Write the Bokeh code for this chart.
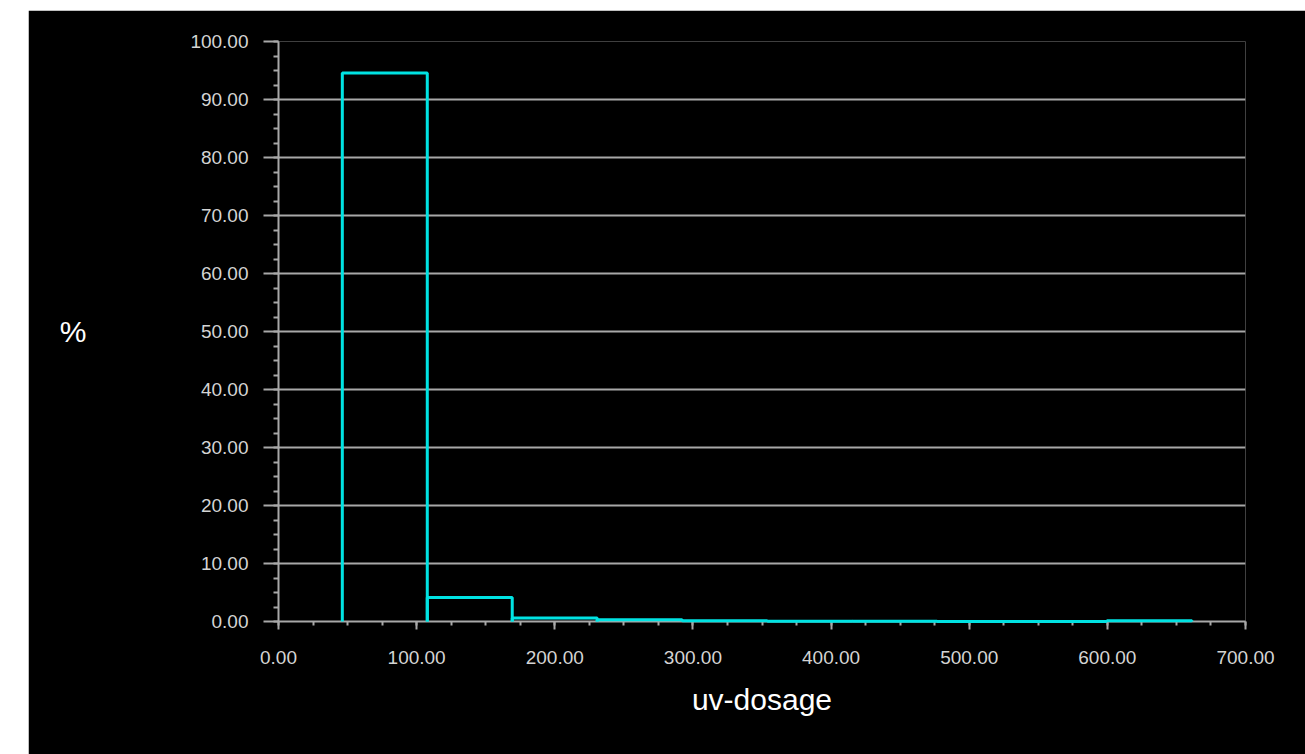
from bokeh.plotting import figure
from bokeh.models import SingleIntervalTicker, NumeralTickFormatter, Range1d, Spacer
from bokeh.layouts import row, column
from bokeh.embed import file_html
from bokeh.resources import INLINE

# Histogram data (uv-dosage bins, percent of samples)
bin_edges = [46.2, 107.7, 169.2, 230.7, 292.2, 353.7, 415.2, 476.7, 538.2, 599.7, 661.2]
percent = [94.55, 4.15, 0.60, 0.30, 0.15, 0.06, 0.03, 0.02, 0.02, 0.12]
x_label = "uv-dosage"
y_label = "%"

FONT = "Liberation Sans"
AXIS_GRAY = "#a8a8a8"
LABEL_GRAY = "#d4d4d4"
CYAN = "#00e3e3"

p = figure(width=1277, height=744, output_backend="svg", toolbar_location=None,
           x_range=Range1d(0, 700), y_range=Range1d(0, 100),
           min_border_left=250, min_border_right=60, min_border_top=31, min_border_bottom=133)
p.background_fill_color = "black"
p.border_fill_color = "black"
p.outline_line_color = None

# Each bin drawn as an open outline: left side, top, right side (no bottom edge)
xs = [[l, l, r, r] for l, r in zip(bin_edges[:-1], bin_edges[1:])]
ys = [[0, h, h, 0] for h in percent]
r = p.multi_line(xs=xs, ys=ys, line_color=CYAN, line_width=3)
r.level = "overlay"

p.xaxis.ticker = SingleIntervalTicker(interval=100, num_minor_ticks=4)
p.yaxis.ticker = SingleIntervalTicker(interval=10, num_minor_ticks=4)
for ax in (p.xaxis, p.yaxis):
    ax.formatter = NumeralTickFormatter(format="0.00")
    ax.axis_line_color = AXIS_GRAY
    ax.axis_line_width = 2
    ax.major_tick_line_color = AXIS_GRAY
    ax.major_tick_line_width = 2
    ax.minor_tick_line_color = AXIS_GRAY
    ax.minor_tick_line_width = 2
    ax.major_tick_in = 0
    ax.minor_tick_in = 0
    ax.major_label_text_font = FONT
    ax.major_label_text_font_size = "19px"
    ax.major_label_text_color = LABEL_GRAY
    ax.axis_label_text_font = FONT
    ax.axis_label_text_font_size = "30px"
    ax.axis_label_text_font_style = "normal"
    ax.axis_label_text_color = "white"

p.xaxis.axis_label = x_label
p.xaxis.major_tick_out = 8
p.xaxis.minor_tick_out = 4
p.xaxis.major_label_standoff = 21
p.xaxis.axis_label_standoff = 16

p.yaxis.axis_label = y_label
p.yaxis.axis_label_orientation = "horizontal"
p.yaxis.major_tick_out = 15
p.yaxis.minor_tick_out = 5
p.yaxis.major_label_standoff = 15
p.yaxis.axis_label_standoff = 101

p.xgrid.grid_line_color = None
p.ygrid.grid_line_color = AXIS_GRAY
p.ygrid.grid_line_width = 2

layout = column(Spacer(height=10), row(Spacer(width=28), p))

open("out.html", "w").write(file_html(layout, INLINE))
